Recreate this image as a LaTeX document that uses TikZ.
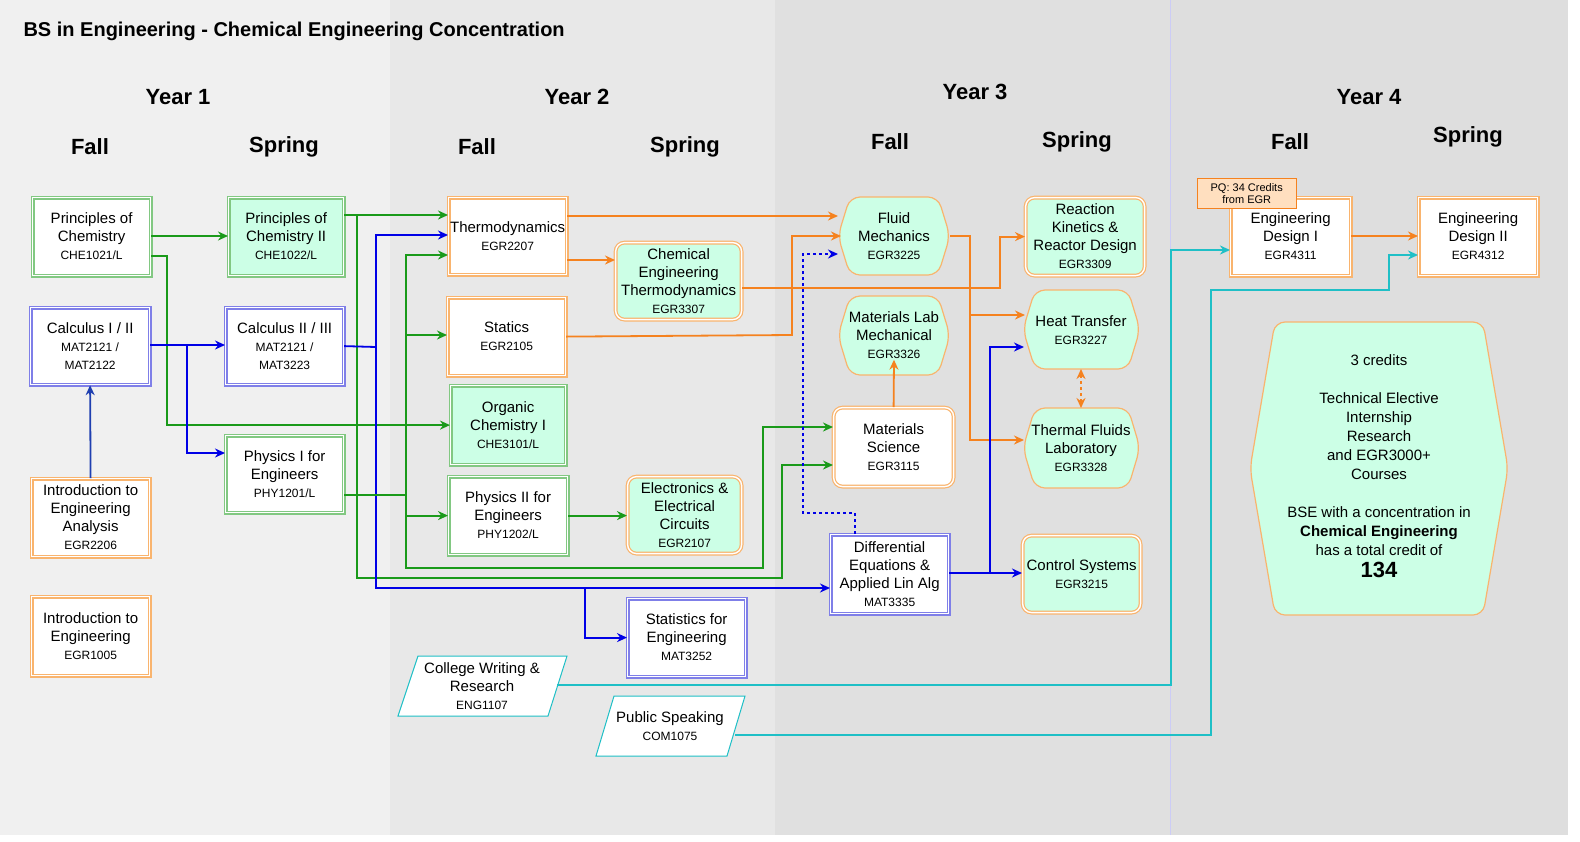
\documentclass[tikz,border=0pt]{standalone}
\usepackage{fontspec}
\setmainfont{Liberation Sans}
\usetikzlibrary{arrows.meta,positioning,calc}
\definecolor{grnB}{HTML}{82C882}
\definecolor{bluB}{HTML}{7F7FE8}
\definecolor{orgB}{HTML}{F9B46E}
\definecolor{mint}{HTML}{CCFFE6}
\definecolor{lgrn}{HTML}{1A9A1A}
\definecolor{lblu}{HTML}{0000E6}
\definecolor{lorg}{HTML}{F5821F}
\definecolor{lcyn}{HTML}{1FBFC6}
\definecolor{dblu}{HTML}{1F3FB0}
\newcommand{\code}[1]{{\fontsize{12}{14}\selectfont #1}}
\newcommand{\hexpath}[5]{% x1,y1,x2,y2,indent
  \draw[orgB,fill=mint,line width=1.2pt,rounded corners=10pt]
    (#1+#5,#2) -- (#3-#5,#2) -- (#3,{(#2+#4)/2}) -- (#3-#5,#4)
    -- (#1+#5,#4) -- (#1,{(#2+#4)/2}) -- cycle;}
\tikzset{
  course/.style={align=center, anchor=north west, inner sep=1pt,
    font=\fontsize{15}{18}\selectfont},
  gbox/.style={course, draw=grnB, double=white, double distance=1.4pt, line width=1.2pt},
  bbox/.style={course, draw=bluB, double=white, double distance=1.4pt, line width=1.2pt},
  obox/.style={course, draw=orgB, double=white, double distance=1.4pt, line width=1.2pt},
  rbox/.style={obox, rounded corners=9pt, fill=mint},
  link/.style={-{Stealth[length=10pt,width=9pt]}, line width=1.8pt},
  garr/.style={link, lgrn},
  barr/.style={link, lblu},
  oarr/.style={link, lorg},
  carr/.style={link, lcyn},
  head/.style={font=\bfseries\fontsize{22}{24}\selectfont}
}
\begin{document}
\begin{tikzpicture}[x=1pt,y=-1pt]
\useasboundingbox (0,0) rectangle (1580,841);
% columns
\fill[white] (0,0) rectangle (1580,841);
\fill[black!6] (0,0) rectangle (390,835);
\fill[black!9] (390,0) rectangle (775,835);
\fill[black!12] (775,0) rectangle (1170,835);
\fill[black!13] (1170,0) rectangle (1568,835);
\draw[bluB!40] (1170,0) -- (1170,835);
\node[anchor=west,font=\bfseries\fontsize{20}{22}\selectfont] (title) at (20,31)
  {BS in Engineering - Chemical Engineering Concentration};
% headings
\node[head] (y1) at (178,97) {Year 1};
\node[head] (y2) at (577,97) {Year 2};
\node[head] (y3) at (975,92) {Year 3};
\node[head] (y4) at (1369,97) {Year 4};
\node[head] (f1) at (90,147) {Fall};
\node[head] (s1) at (284,147) {Spring};
\node[head] (f2) at (477,147) {Fall};
\node[head] (s2) at (685,147) {Spring};
\node[head] (f3) at (890,142) {Fall};
\node[head] (s3) at (1077,142) {Spring};
\node[head] (f4) at (1290,142) {Fall};
\node[head] (s4) at (1468,137) {Spring};
% year 1
\node[gbox,fill=white,minimum width=118,minimum height=78] (pc1) at (32,197)
  {Principles of\\Chemistry\\\code{CHE1021/L}};
\node[gbox,fill=mint,minimum width=115,minimum height=78] (pc2) at (228,197)
  {Principles of\\Chemistry II\\\code{CHE1022/L}};
\node[bbox,fill=white,minimum width=119,minimum height=77] (calc1) at (30,307)
  {Calculus I / II\\\code{MAT2121 /}\\\code{MAT2122}};
\node[bbox,fill=white,minimum width=118,minimum height=77] (calc2) at (225,307)
  {Calculus II / III\\\code{MAT2121 /}\\\code{MAT3223}};
\node[gbox,fill=white,minimum width=118,minimum height=77] (phy1) at (225,435)
  {Physics I for\\Engineers\\\code{PHY1201/L}};
\node[obox,fill=white,minimum width=118,minimum height=78] (iea) at (31,478)
  {Introduction to\\Engineering\\Analysis\\\code{EGR2206}};
\node[obox,fill=white,minimum width=118,minimum height=79] (ie) at (31,596)
  {Introduction to\\Engineering\\\code{EGR1005}};
% year 2
\node[obox,fill=white,minimum width=118,minimum height=77] (thermo) at (448,197)
  {Thermodynamics\\\code{EGR2207}};
\node[obox,fill=white,minimum width=118,minimum height=78] (statics) at (447,297)
  {Statics\\\code{EGR2105}};
\node[gbox,fill=mint,minimum width=115,minimum height=79] (orgchem) at (450,385)
  {Organic\\Chemistry I\\\code{CHE3101/L}};
\node[gbox,fill=white,minimum width=119,minimum height=78] (phy2) at (448,476)
  {Physics II for\\Engineers\\\code{PHY1202/L}};
\node[rbox,minimum width=126,minimum height=77] (cet) at (615,242)
  {Chemical\\Engineering\\Thermodynamics\\\code{EGR3307}};
\node[rbox,minimum width=114,minimum height=77] (eec) at (627,476)
  {Electronics \&\\Electrical\\Circuits\\\code{EGR2107}};
\node[bbox,fill=white,minimum width=118,minimum height=78] (stats) at (627,598)
  {Statistics for\\Engineering\\\code{MAT3252}};
\draw[lcyn,line width=1pt,fill=white] (418,656) -- (567,656) -- (548,716) -- (398,716) -- cycle;
\node[course,anchor=center] (cwr) at (482,686) {College Writing \&\\Research\\\code{ENG1107}};
\draw[lcyn,line width=1pt,fill=white] (614,696) -- (745,696) -- (727,756) -- (596,756) -- cycle;
\node[course,anchor=center] (ps) at (670,726) {Public Speaking\\\code{COM1075}};
% year 3
\hexpath{838}{197}{950}{275}{12}
\node[course,anchor=center] (fluid) at (894,236) {Fluid\\Mechanics\\\code{EGR3225}};
\hexpath{838}{296}{950}{375}{12}
\node[course,anchor=center] (matlab) at (894,335) {Materials Lab\\Mechanical\\\code{EGR3326}};
\node[obox,fill=white,rounded corners=9pt,minimum width=120,minimum height=79] (matsci) at (833,407)
  {Materials\\Science\\\code{EGR3115}};
\node[bbox,fill=white,minimum width=118,minimum height=79] (diffeq) at (830,534)
  {Differential\\Equations \&\\Applied Lin Alg\\\code{MAT3335}};
\node[rbox,minimum width=119,minimum height=78] (rkrd) at (1025,197)
  {Reaction\\Kinetics \&\\Reactor Design\\\code{EGR3309}};
\hexpath{1023}{290}{1140}{369}{12}
\node[course,anchor=center] (heat) at (1081,330) {Heat Transfer\\\code{EGR3227}};
\hexpath{1023}{408}{1140}{488}{12}
\node[course,anchor=center] (tfl) at (1081,448) {Thermal Fluids\\Laboratory\\\code{EGR3328}};
\node[rbox,minimum width=118,minimum height=77] (ctrl) at (1022,535)
  {Control Systems\\\code{EGR3215}};
% year 4
\node[obox,fill=white,minimum width=120,minimum height=78] (ed1) at (1230,197)
  {Engineering\\Design I\\\code{EGR4311}};
\node[obox,fill=white,minimum width=119,minimum height=78] (ed2) at (1418,197)
  {Engineering\\Design II\\\code{EGR4312}};
\node[draw=lorg,fill=orange!25,anchor=north west,minimum width=99,minimum height=30,
  inner sep=1pt,align=center,font=\fontsize{11}{12}\selectfont] (pq) at (1197,178)
  {PQ: 34 Credits\\from EGR};
\hexpath{1250}{322}{1508}{615}{25}
\node[align=center,font=\fontsize{15}{19}\selectfont] (total) at (1379,466)
  {3 credits\\[19pt]Technical Elective\\Internship\\Research\\and EGR3000+\\Courses\\[19pt]
   BSE with a concentration in\\\textbf{Chemical Engineering}\\has a total credit of\\[3pt]
   {\bfseries\fontsize{22}{26}\selectfont 134}};
% connectors
\draw[garr] (pc1.east |- 0,236) -- (pc2.west |- 0,236);
\draw[garr] (pc1.east |- 0,256) -- (167,256) |- (orgchem.west);
\draw[garr] (pc2.east |- 0,215) -- (thermo.west |- 0,215);
\draw[garr] (357,215) |- (782,578) |- (matsci.west |- 0,465);
\draw[barr] (calc1.east |- 0,345) -- (calc2.west |- 0,345);
\draw[barr] (187,345) |- (phy1.west |- 0,453);
\draw[barr] (calc2.east) -- (376,347) |- (thermo.west |- 0,235);
\draw[barr] (376,347) |- (diffeq.west |- 0,588);
\draw[barr] (585,588) |- (stats.west);
\draw[garr] (phy1.east |- 0,495) -- (406,495) |- (thermo.west |- 0,255);
\draw[garr] (406,335) -- (statics.west |- 0,335);
\draw[garr] (406,495) |- (phy2.west);
\draw[garr] (406,495) |- (763,568) |- (matsci.west |- 0,427);
\draw[garr] (phy2.east) -- (eec.west |- phy2.east);
\draw[link,dblu] (iea.north) -- (calc1.south);
\draw[oarr] (thermo.east |- 0,216) -- (838,216);
\draw[oarr] (thermo.east |- 0,260) -- (cet.west |- 0,260);
\draw[oarr] (statics.east) -- (792,335) |- (841,236);
\draw[oarr] (cet.east |- 0,288) -- (1000,288) |- (rkrd.west);
\draw[oarr] (950,236) -- (970,236) |- (1025,315);
\draw[oarr] (970,315) |- (1024,440);
\draw[oarr] (matsci.north) -- (matlab.south);
\draw[{Stealth[length=10pt,width=9pt]}-{Stealth[length=10pt,width=9pt]},line width=1.8pt,lorg,dashed]
  (heat.south |- 0,369) -- (tfl.north |- 0,408);
\draw[barr,dashed] (855,534) -- (855,513) -| (803,254) -- (838,254);
\draw[barr] (diffeq.east |- 0,573) -- (ctrl.west |- 0,573);
\draw[barr] (990,573) |- (1024,347);
\draw[oarr] (ed1.east |- 0,236) -- (ed2.west |- 0,236);
\draw[carr] (557,685) -- (1171,685) |- (ed1.west |- 0,250);
\draw[carr] (735,735) -- (1211,735) |- (1389,290) |- (ed2.west |- 0,255);
\end{tikzpicture}
\end{document}
